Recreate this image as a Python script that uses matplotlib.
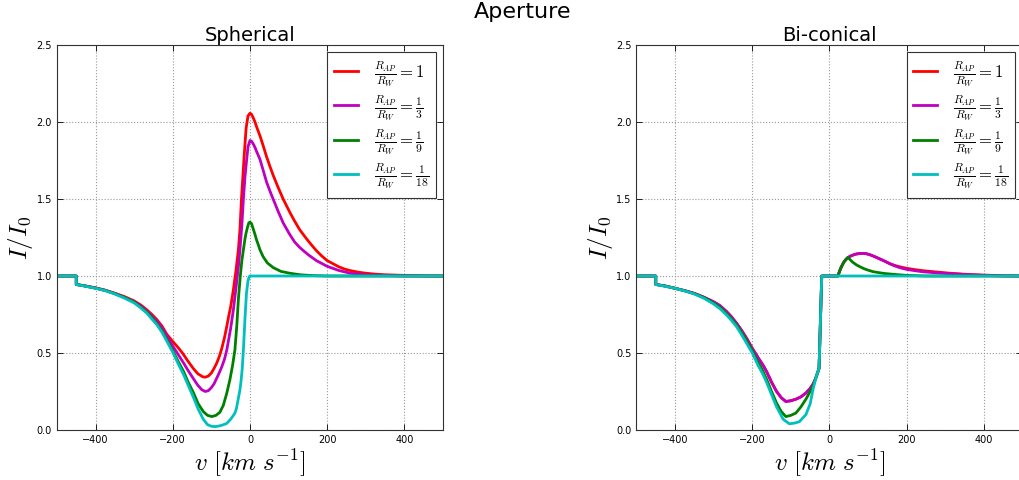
import matplotlib
matplotlib.use('Agg')
import matplotlib.pyplot as plt

plt.rcParams['mathtext.fontset'] = 'cm'
plt.rcParams['xtick.direction'] = 'in'
plt.rcParams['ytick.direction'] = 'in'
plt.rcParams['xtick.top'] = True
plt.rcParams['ytick.right'] = True

# --- Spherical aperture profiles (v in km/s, I/I0) ---
v_sph_1 = [-500, -450, -450, -425, -400, -375, -350, -325, -300, -283,
           -267, -254, -241, -228, -215, -200, -186, -175, -160, -147,
           -135, -122, -116, -108, -100, -93, -86, -79, -73, -66,
           -60, -55, -50, -43, -36, -30, -26, -22, -18, -15,
           -10, -5, 0, 4, 8, 13, 17, 26, 35, 43,
           52, 60, 73, 86, 103, 116, 129, 147, 160, 172,
           186, 200, 215, 230, 245, 260, 280, 300, 325, 350,
           400, 450, 500]
I_sph_1 = [1.0, 1.0, 0.945, 0.935, 0.923, 0.908, 0.888, 0.866, 0.838, 0.812,
           0.78, 0.75, 0.716, 0.675, 0.62, 0.575, 0.535, 0.50, 0.445, 0.40,
           0.365, 0.345, 0.343, 0.35, 0.37, 0.40, 0.435, 0.48, 0.53, 0.60,
           0.674, 0.74, 0.80, 0.91, 1.04, 1.17, 1.30, 1.5, 1.66, 1.78,
           1.96, 2.04, 2.057, 2.05, 2.03, 2.0, 1.97, 1.91, 1.84, 1.775,
           1.71, 1.655, 1.575, 1.50, 1.415, 1.355, 1.30, 1.24, 1.20, 1.165,
           1.13, 1.10, 1.08, 1.06, 1.045, 1.035, 1.025, 1.018, 1.012, 1.008,
           1.004, 1.001, 1.0]

v_sph_3 = [-500, -450, -450, -425, -400, -375, -350, -325, -300, -283,
           -267, -254, -241, -228, -215, -200, -186, -172, -160, -147,
           -135, -125, -116, -108, -100, -93, -86, -79, -73, -66,
           -60, -55, -50, -43, -35, -30, -26, -21, -17, -13,
           -10, -5, 0, 4, 8, 13, 17, 26, 35, 43,
           52, 60, 73, 86, 103, 116, 129, 150, 172, 200,
           230, 260, 300, 350, 400, 500]
I_sph_3 = [1.0, 1.0, 0.945, 0.934, 0.922, 0.907, 0.886, 0.862, 0.834, 0.805,
           0.772, 0.74, 0.705, 0.665, 0.61, 0.545, 0.49, 0.435, 0.385, 0.335,
           0.29, 0.262, 0.25, 0.255, 0.275, 0.30, 0.337, 0.375, 0.41, 0.46,
           0.52, 0.59, 0.66, 0.78, 0.95, 1.06, 1.17, 1.33, 1.5, 1.64,
           1.72, 1.84, 1.88, 1.875, 1.86, 1.835, 1.81, 1.757, 1.68, 1.61,
           1.55, 1.50, 1.42, 1.345, 1.27, 1.22, 1.185, 1.14, 1.10, 1.063,
           1.036, 1.018, 1.008, 1.003, 1.0, 1.0]

v_sph_9 = [-500, -450, -450, -425, -400, -375, -350, -325, -300, -283,
           -267, -254, -241, -228, -215, -200, -186, -172, -160, -147,
           -134, -121, -110, -99, -88, -78, -69, -60, -52, -45,
           -39, -34, -30, -25, -21, -17, -13, -10, -6, -3,
           0, 4, 8, 13, 17, 22, 26, 34, 45, 60,
           80, 103, 130, 160, 200, 500]
I_sph_9 = [1.0, 1.0, 0.945, 0.934, 0.921, 0.906, 0.885, 0.86, 0.831, 0.798,
           0.765, 0.73, 0.69, 0.645, 0.585, 0.515, 0.445, 0.38, 0.31, 0.245,
           0.17, 0.12, 0.095, 0.087, 0.095, 0.115, 0.16, 0.24, 0.326, 0.42,
           0.52, 0.68, 0.85, 1.0, 1.1, 1.17, 1.24, 1.28, 1.32, 1.345,
           1.35, 1.34, 1.31, 1.27, 1.235, 1.20, 1.17, 1.126, 1.085, 1.055,
           1.03, 1.018, 1.008, 1.003, 1.0, 1.0]

v_sph_18 = [-500, -450, -450, -425, -400, -375, -350, -325, -300, -283,
            -267, -254, -241, -228, -215, -200, -186, -172, -160, -147,
            -134, -121, -110, -100, -90, -80, -70, -60, -50, -43,
            -39, -35, -32, -29, -26, -23, -20, -17, -13, -9,
            -5, -2, 0, 500]
I_sph_18 = [1.0, 1.0, 0.945, 0.933, 0.92, 0.905, 0.883, 0.856, 0.825, 0.793,
            0.758, 0.72, 0.683, 0.635, 0.575, 0.505, 0.43, 0.36, 0.29, 0.215,
            0.135, 0.07, 0.035, 0.024, 0.022, 0.026, 0.033, 0.043, 0.07, 0.095,
            0.11, 0.14, 0.18, 0.22, 0.26, 0.32, 0.40, 0.52, 0.72, 0.89,
            0.97, 0.995, 1.0, 1.0]

# --- Bi-conical aperture profiles ---
v_bic = [-500, -450, -450, -425, -400, -375, -350, -325, -300, -284,
         -267, -254, -241, -228, -215, -200, -185, -172, -163, -150,
         -137, -125, -113, -100, -87, -74, -61, -50, -42, -35,
         -27, -20, 22, 26, 30, 34, 38, 43, 48, 55,
         62, 70, 78, 87, 95, 105, 115, 125, 140, 156,
         170, 185, 200, 220, 240, 269, 312, 360, 400, 450,
         500]
I_bic_1 = [1.0, 1.0, 0.945, 0.935, 0.92, 0.905, 0.887, 0.862, 0.832, 0.808,
           0.77, 0.735, 0.694, 0.648, 0.597, 0.53, 0.47, 0.42, 0.38, 0.31,
           0.25, 0.21, 0.185, 0.19, 0.20, 0.215, 0.24, 0.27, 0.30, 0.34,
           0.40, 1.0, 1.0, 1.03, 1.055, 1.075, 1.093, 1.108, 1.12, 1.13,
           1.137, 1.143, 1.146, 1.147, 1.145, 1.138, 1.128, 1.117, 1.10, 1.08,
           1.068, 1.058, 1.05, 1.042, 1.035, 1.028, 1.018, 1.01, 1.006, 1.002,
           1.0]
I_bic_3 = [1.0, 1.0, 0.945, 0.935, 0.92, 0.905, 0.887, 0.862, 0.832, 0.808,
           0.77, 0.735, 0.694, 0.648, 0.597, 0.53, 0.47, 0.42, 0.38, 0.31,
           0.25, 0.21, 0.185, 0.19, 0.20, 0.215, 0.24, 0.27, 0.30, 0.34,
           0.40, 1.0, 1.0, 1.03, 1.055, 1.075, 1.093, 1.108, 1.12, 1.13,
           1.137, 1.143, 1.146, 1.147, 1.145, 1.138, 1.128, 1.117, 1.10, 1.08,
           1.065, 1.052, 1.043, 1.035, 1.028, 1.022, 1.015, 1.008, 1.004, 1.0,
           1.0]

v_bic_9 = [-500, -450, -450, -425, -400, -375, -350, -325, -300, -284,
           -267, -254, -241, -228, -215, -200, -185, -172, -163, -150,
           -137, -125, -113, -100, -87, -74, -61, -50, -42, -35,
           -27, -20, 22, 26, 30, 34, 38, 43, 48, 54,
           60, 70, 79, 90, 100, 113, 140, 165, 200, 250,
           500]
I_bic_9 = [1.0, 1.0, 0.945, 0.934, 0.92, 0.904, 0.885, 0.86, 0.825, 0.798,
           0.758, 0.722, 0.683, 0.635, 0.58, 0.515, 0.44, 0.38, 0.33, 0.25,
           0.174, 0.12, 0.087, 0.095, 0.11, 0.15, 0.20, 0.25, 0.29, 0.34,
           0.40, 1.0, 1.0, 1.03, 1.055, 1.075, 1.093, 1.108, 1.121, 1.105,
           1.09, 1.072, 1.06, 1.047, 1.038, 1.028, 1.017, 1.011, 1.004, 1.0,
           1.0]

v_bic_18 = [-500, -450, -450, -425, -400, -375, -350, -325, -300, -284,
            -267, -254, -241, -228, -215, -200, -185, -172, -163, -150,
            -137, -120, -104, -90, -78, -61, -50, -42, -35, -27,
            -20, 500]
I_bic_18 = [1.0, 1.0, 0.945, 0.933, 0.92, 0.903, 0.883, 0.855, 0.818, 0.788,
            0.748, 0.712, 0.672, 0.62, 0.565, 0.50, 0.42, 0.36, 0.31, 0.23,
            0.15, 0.07, 0.04, 0.045, 0.054, 0.10, 0.17, 0.27, 0.34, 0.40,
            1.0, 1.0]

labels = [r'$\frac{R_{AP}}{R_W}=1$', r'$\frac{R_{AP}}{R_W}=\frac{1}{3}$',
          r'$\frac{R_{AP}}{R_W}=\frac{1}{9}$', r'$\frac{R_{AP}}{R_W}=\frac{1}{18}$']
colors = ['#ff0000', '#bf00bf', '#008000', '#00bfbf']

panels = [
    ('Spherical', [(v_sph_1, I_sph_1), (v_sph_3, I_sph_3), (v_sph_9, I_sph_9), (v_sph_18, I_sph_18)]),
    ('Bi-conical', [(v_bic, I_bic_1), (v_bic, I_bic_3), (v_bic_9, I_bic_9), (v_bic_18, I_bic_18)]),
]

fig = plt.figure(figsize=(10.19, 4.8), dpi=100)
lefts = [0.0559, 0.6246]

for left, (title, curves) in zip(lefts, panels):
    ax = fig.add_axes([left, 0.1042, 0.3788, 0.802])
    for (v, I), c, lab in zip(curves, colors, labels):
        ax.plot(v, I, color=c, lw=2, label=lab)
    ax.set_xlim(-500, 500)
    ax.set_ylim(0, 2.5)
    ax.set_xticks([-400, -200, 0, 200, 400])
    ax.set_yticks([0.0, 0.5, 1.0, 1.5, 2.0, 2.5])
    ax.tick_params(labelsize=7, length=4, width=0.6)
    ax.grid(True, color='0.6', linestyle=':', lw=0.8)
    for s in ax.spines.values():
        s.set_linewidth(0.8)
        s.set_color('0.2')
    ax.set_title(title, fontsize=14, pad=3)
    ax.set_xlabel(r'$v\ [km\ s^{-1}]$', fontsize=18, labelpad=2)
    ax.set_ylabel(r'$I/I_0$', fontsize=18, labelpad=1)
    leg = ax.legend(loc='upper right', fontsize=12, fancybox=False, framealpha=1,
                    edgecolor='0.2', handlelength=1.45, handletextpad=0.95,
                    labelspacing=0.25, borderaxespad=0.42, borderpad=0.4)
    leg.get_frame().set_linewidth(0.8)

fig.text(0.513, 0.963, 'Aperture', fontsize=16, ha='center', va='baseline')

fig.savefig('out.png', dpi=100)
